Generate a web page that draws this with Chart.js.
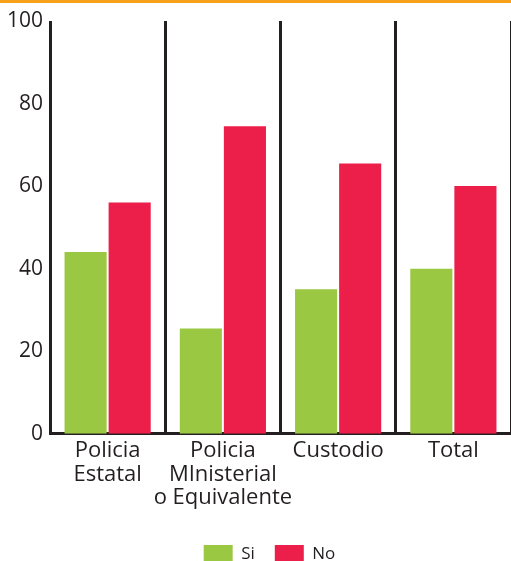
<!DOCTYPE html>
<html>
<head>
<meta charset="utf-8">
<script src="https://cdn.jsdelivr.net/npm/chart.js@4/dist/chart.umd.min.js"></script>
<style>
  html, body { margin: 0; padding: 0; background: #fff; overflow: hidden; }
  #wrap { position: relative; width: 511px; height: 561px; }
</style>
</head>
<body>
<div id="wrap"><canvas id="main-chart"></canvas></div>
<script>
const categories = [['Policia', 'Estatal'], ['Policia', 'MInisterial', 'o Equivalente'], 'Custodio', 'Total'];
const siValues = [44, 25.5, 35, 40];
const noValues = [56, 74.5, 65.5, 60];
const yTicks = [0, 20, 40, 60, 80, 100];

const ink = '#231f20';

// thin orange rule across the top of the canvas
const topRule = {
  id: 'topRule',
  afterDraw(chart) {
    const ctx = chart.ctx;
    ctx.save();
    ctx.fillStyle = '#f7a11b';
    ctx.fillRect(0, 0, chart.width, 3);
    ctx.restore();
  }
};

// nudge the legend right (centred under the plot) and down toward the bottom edge
const legendShift = {
  id: 'legendShift',
  afterLayout(chart) {
    const lg = chart.legend;
    if (!lg) return;
    lg.left += 14; lg.right += 14;
    lg.top += 10; lg.bottom += 10;
  }
};

const ctx = document.getElementById('main-chart').getContext('2d');
new Chart(ctx, {
  type: 'bar',
  data: {
    labels: categories,
    datasets: [
      { label: 'Si', data: siValues, backgroundColor: '#9bc842' },
      { label: 'No', data: noValues, backgroundColor: '#ec1e4a' }
    ]
  },
  options: {
    responsive: true,
    maintainAspectRatio: false,
    animation: false,
    layout: { padding: { top: 21, right: 0, bottom: -2, left: 0 } },
    datasets: {
      bar: { categoryPercentage: 0.765, barPercentage: 0.955 }
    },
    scales: {
      x: {
        offset: true,
        grid: { display: true, color: ink, lineWidth: 3, drawTicks: false, offset: true },
        border: { display: true, color: ink, width: 3 },
        ticks: {
          color: ink,
          font: { family: 'Open Sans', size: 22, lineHeight: 1.08 },
          padding: 5,
          maxRotation: 0,
          autoSkip: false
        }
      },
      y: {
        min: 0,
        max: 100,
        afterBuildTicks(scale) {
          scale.ticks = yTicks.map(v => ({ value: v }));
        },
        afterFit(scale) { scale.width = 50; },
        grid: { display: false, drawTicks: false },
        border: { display: false },
        ticks: {
          color: ink,
          font: { family: 'Open Sans', size: 21 },
          padding: 7
        }
      }
    },
    plugins: {
      legend: {
        position: 'bottom',
        labels: {
          color: ink,
          boxWidth: 29,
          boxHeight: 18,
          padding: 20,
          font: { family: 'Open Sans', size: 17 }
        }
      },
      tooltip: { enabled: false }
    }
  },
  plugins: [topRule, legendShift]
});
</script>
</body>
</html>
